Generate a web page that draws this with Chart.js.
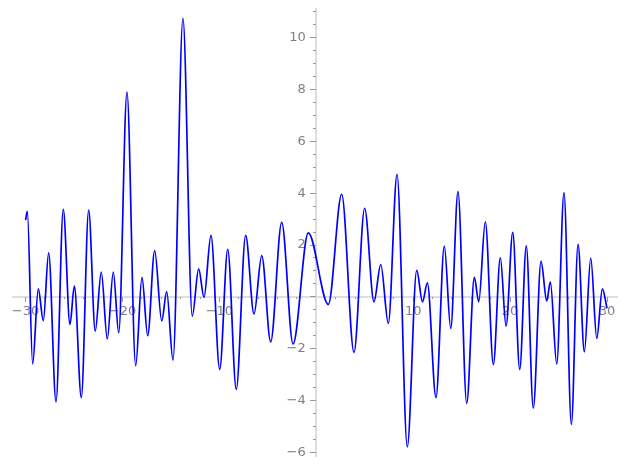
<!DOCTYPE html>
<html>
<head>
<meta charset="utf-8">
<script src="https://cdn.jsdelivr.net/npm/chart.js@4/dist/chart.umd.min.js"></script>
<style>
html,body{margin:0;padding:0;background:#fff;}
#wrap{width:627px;height:469px;}
</style>
</head>
<body>
<div id="wrap"><canvas id="c" width="627" height="469"></canvas></div>
<script>
// Extrema of the curve
const xValues = [-30, -29.82, -29.27, -28.69, -28.17, -27.62, -26.86, -26.11, -25.42, -24.97,
  -24.25, -23.49, -22.81, -22.19, -21.57, -20.95, -20.39, -19.54, -18.64, -17.99,
  -17.40, -16.68, -15.95, -15.44, -14.79, -13.76, -12.80, -12.14, -11.59, -10.87,
  -9.97, -9.14, -8.26, -7.29, -6.43, -5.63, -4.71, -3.57, -2.40, -0.83,
  1.24, 2.62, 3.89, 4.99, 5.95, 6.65, 7.43, 8.33, 9.39, 10.36,
  10.96, 11.46, 12.35, 13.21, 13.87, 14.62, 15.52, 16.31, 16.76, 17.44,
  18.27, 18.99, 19.58, 20.27, 20.99, 21.67, 22.39, 23.19, 23.78, 24.15,
  24.81, 25.56, 26.32, 27.01, 27.66, 28.32, 28.94, 29.52, 30];
const yValues = [2.96, 3.30, -2.59, 0.31, -0.92, 1.70, -4.05, 3.38, -1.06, 0.42,
  -3.89, 3.35, -1.32, 0.96, -1.63, 0.96, -1.39, 7.90, -2.66, 0.75,
  -1.50, 1.79, -0.93, 0.20, -2.44, 10.75, -0.74, 1.08, -0.02, 2.37,
  -2.80, 1.83, -3.57, 2.37, -0.66, 1.59, -1.74, 2.88, -1.82, 2.47,
  -0.29, 3.96, -2.14, 3.42, -0.19, 1.25, -1.02, 4.73, -5.79, 1.02,
  -0.19, 0.54, -3.89, 1.96, -1.22, 4.06, -4.11, 0.75, -0.19, 2.90,
  -2.61, 1.51, -1.13, 2.49, -2.80, 1.97, -4.29, 1.37, -0.16, 0.58,
  -2.59, 4.02, -4.92, 2.03, -2.12, 1.50, -1.60, 0.31, -0.44];
const xMajorStep = 10, xMinorStep = 2;
const yMajorStep = 2, yMinorStep = 0.5;
const xRange = [-31.33, 31.06];
const yRange = [-6.17, 11.1];

const points = xValues.map((x, i) => ({x: x, y: yValues[i]}));
const labelColor = '#808080';
const tickColor = '#9a9a9a';
const axisColor = '#dedede';
const font = {family: 'DejaVu Sans', size: 13};
const fmt = v => (v === 0 ? '' : (v < 0 ? '\u2212' + Math.abs(v) : String(v)));
// y labels are right-aligned at the axis; a trailing gap moves them left of the ticks
const fmtY = v => (v === 0 ? '' : fmt(v) + '\u2002 ');
const zeroH = s => { s.height = 0; s.paddingLeft = 0; s.paddingRight = 0; s.paddingTop = 0; s.paddingBottom = 0; };
const zeroW = s => { s.width = 0; s.paddingLeft = 0; s.paddingRight = 0; s.paddingTop = 0; s.paddingBottom = 0; };

new Chart(document.getElementById('c'), {
  type: 'line',
  data: {datasets: [{
    data: points,
    borderColor: '#0000ff',
    borderWidth: 1.7,
    pointRadius: 0,
    fill: false,
    cubicInterpolationMode: 'monotone'
  }]},
  options: {
    responsive: false,
    animation: false,
    devicePixelRatio: 1,
    layout: {padding: {left: 12.7, right: 9.7, top: 9.3, bottom: 12.3}},
    plugins: {legend: {display: false}, tooltip: {enabled: false}},
    scales: {
      x: {
        type: 'linear', min: xRange[0], max: xRange[1], position: {y: 0},
        afterFit: zeroH,
        border: {display: true, color: axisColor, width: 2, z: -1},
        grid: {drawOnChartArea: false, tickLength: 4, tickColor: tickColor, tickWidth: 1},
        ticks: {stepSize: xMajorStep, includeBounds: false, autoSkip: false, maxRotation: 0,
                color: labelColor, font: font, padding: 3, callback: fmt}
      },
      xMinor: {
        type: 'linear', axis: 'x', min: xRange[0], max: xRange[1], position: {y: 0},
        afterFit: zeroH,
        border: {display: false},
        grid: {drawOnChartArea: false, tickLength: 2, tickColor: tickColor, tickWidth: 1},
        ticks: {stepSize: xMinorStep, includeBounds: false, autoSkip: false, maxRotation: 0,
                callback: () => ''}
      },
      y: {
        type: 'linear', min: yRange[0], max: yRange[1], position: {x: 0},
        afterFit: zeroW,
        border: {display: true, color: axisColor, width: 2, z: -1},
        grid: {drawOnChartArea: false, tickLength: 5, tickColor: tickColor, tickWidth: 1},
        ticks: {stepSize: yMajorStep, includeBounds: false, autoSkip: false,
                color: labelColor, font: font, padding: 6, callback: fmtY}
      },
      yMinor: {
        type: 'linear', axis: 'y', min: yRange[0], max: yRange[1], position: {x: 0},
        afterFit: zeroW,
        border: {display: false},
        grid: {drawOnChartArea: false, tickLength: 3, tickColor: tickColor, tickWidth: 1},
        ticks: {stepSize: yMinorStep, includeBounds: false, autoSkip: false,
                callback: () => ''}
      }
    }
  }
});
</script>
</body>
</html>
